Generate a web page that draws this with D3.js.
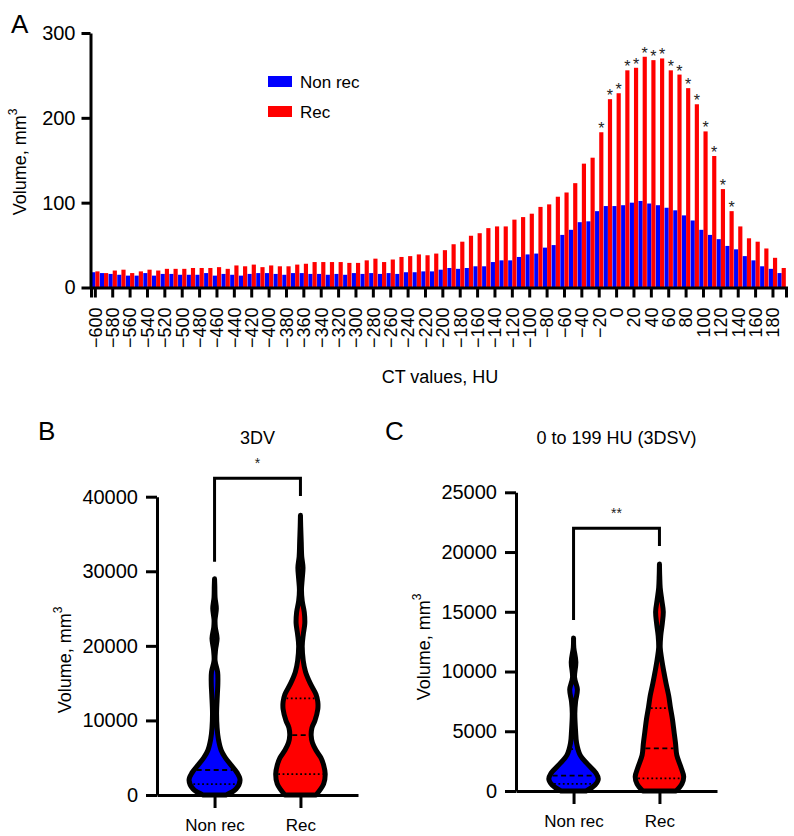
<!DOCTYPE html>
<html><head><meta charset="utf-8">
<script src="https://cdn.jsdelivr.net/npm/d3@7"></script>
<style>body{margin:0;background:#fff}svg{font-family:"Liberation Sans",Arial,Helvetica,sans-serif}</style>
</head><body><svg id="c" width="794" height="836"></svg>
<script>
// ---------- Panel A data ----------
const ctValues = [-600,-590,-580,-570,-560,-550,-540,-530,-520,-510,-500,-490,-480,-470,-460,-450,-440,-430,-420,-410,
  -400,-390,-380,-370,-360,-350,-340,-330,-320,-310,-300,-290,-280,-270,-260,-250,-240,-230,-220,-210,
  -200,-190,-180,-170,-160,-150,-140,-130,-120,-110,-100,-90,-80,-70,-60,-50,-40,-30,-20,-10,
  0,10,20,30,40,50,60,70,80,90,100,110,120,130,140,150,160,170,180,190];
const nonRecVol = [18,17,16,15,14,14,17,14,16,16, 15,15,15,17,14,16,15,14,16,17,
  17,16,15,17,17,16,16,15,16,15, 17,16,17,16,17,16,18,18,19,19,
  21,23,22,23,25,25,30,32,32,36, 39,40,47,50,62,68,77,78,90,96,
  96,97,100,102,99,97,94,91,85,79, 68,62,57,49,45,37,32,25,22,17];
const recVol = [19,17,20,21,17,19,21,20,22,22, 22,23,23,23,24,22,26,25,27,24,
  26,25,25,27,28,30,30,30,30,29, 29,32,34,30,33,36,37,39,38,40,
  44,51,54,61,64,70,72,72,80,83, 87,95,98,107,112,123,146,153,183,222,
  229,256,259,272,268,270,256,251,235,216, 184,155,116,90,72,58,54,46,35,23];
const starCats = [-20,-10,0,10,20,30,40,50,60,70,80,90,100,110,120,130];
const xTickValues = [-600,-580,-560,-540,-520,-500,-480,-460,-440,-420,-400,-380,-360,-340,-320,-300,-280,-260,-240,-220,
  -200,-180,-160,-140,-120,-100,-80,-60,-40,-20,0,20,40,60,80,100,120,140,160,180];
const yTicksA = [0,100,200,300];
const seriesNames = ["Non rec","Rec"];
const seriesColors = ["#0000ff","#ff0000"];

// ---------- Panels B and C data: violin outlines [value, relative density] ----------
const groups = ["Non rec","Rec"];
const violinB_nonRec = [[0,0.45],[800,0.84],[2000,1.0],[3000,0.88],[4000,0.65],[5000,0.42],[6000,0.26],[7500,0.15],
  [9000,0.1],[11000,0.08],[13500,0.11],[15000,0.13],[16500,0.12],[18000,0.02],[19500,0.04],[21000,0.1],
  [22500,0.03],[23500,0.02],[25000,0.07],[26500,0.02],[28000,0.01],[29000,0]];
const violinB_rec = [[0,0.61],[1500,0.91],[2800,0.97],[4000,0.91],[5000,0.8],[6000,0.61],[7000,0.47],[8000,0.42],
  [9000,0.45],[10000,0.57],[11500,0.68],[12500,0.68],[13500,0.61],[15000,0.38],[16500,0.2],[18000,0.11],
  [20000,0.07],[21500,0.11],[23000,0.17],[24500,0.15],[26000,0.07],[27500,0.04],[29000,0.07],[30500,0.1],
  [32000,0.05],[34000,0.03],[36000,0.01],[37500,0]];
const violinC_nonRec = [[0,0.49],[500,0.84],[1000,0.97],[1500,0.88],[2200,0.57],[3000,0.26],[4000,0.12],[5000,0.08],
  [6500,0.05],[7500,0.08],[8500,0.15],[9500,0.04],[10800,0.09],[12000,0.01],[12800,0]];
const violinC_rec = [[0,0.65],[600,0.88],[1200,0.95],[2000,0.84],[3000,0.68],[4000,0.63],[5000,0.57],[6000,0.51],
  [7000,0.43],[8000,0.36],[9000,0.26],[10000,0.17],[11000,0.09],[12000,0.03],[13000,0.05],[14000,0.11],
  [15000,0.15],[16000,0.09],[17000,0.03],[18000,0.01],[19000,0]];
// quartiles [q1, median, q3]
const quartB_nonRec = [1470, 3350, null];
const quartB_rec = [2800, 8040, 12960];
const quartC_nonRec = [590, 1280, 3500];
const quartC_rec = [1060, 3570, 6930];
const yTicksB = [0,10000,20000,30000,40000];
const yTicksC = [0,5000,10000,15000,20000,25000];

const svg = d3.select("#c");
const FONT = 20;

function styleAxis(g){
  g.selectAll(".domain").attr("stroke","#000").attr("stroke-width",3);
  g.selectAll(".tick line").attr("stroke","#000").attr("stroke-width",3);
  g.selectAll(".tick text").attr("fill","#000").attr("font-size",FONT).attr("font-family","Liberation Sans, Arial, sans-serif");
}
function yLabel(x, y){
  const t = svg.append("text").attr("transform",`translate(${x},${y}) rotate(-90)`)
    .attr("text-anchor","middle").attr("font-size",18).attr("fill","#000");
  t.append("tspan").text("Volume, mm");
  t.append("tspan").text("3").attr("font-size",12).attr("dy",-9);
}

// ================= Panel A =================
const x0 = d3.scaleBand().domain(ctValues).range([91,786]).paddingInner(0.04).paddingOuter(0.02);
const x1 = d3.scaleBand().domain(seriesNames).range([0,x0.bandwidth()]);
const yA = d3.scaleLinear().domain([0,300]).range([287.5,33]);

const barData = ctValues.map((c,i)=>({c, vals:[nonRecVol[i], recVol[i]]}));
const gBars = svg.append("g");
barData.forEach(d=>{
  d.vals.forEach((v,j)=>{
    gBars.append("rect")
      .attr("x", x0(d.c)+x1(seriesNames[j]))
      .attr("width", x1.bandwidth())
      .attr("y", yA(v))
      .attr("height", yA(0)-yA(v))
      .attr("fill", seriesColors[j]);
  });
});
// stars
starCats.forEach(c=>{
  const i = ctValues.indexOf(c);
  svg.append("text").attr("x", x0(c)+x1("Rec")+x1.bandwidth()/2).attr("y", yA(recVol[i])+2)
    .attr("text-anchor","middle").attr("font-size",16).attr("fill","#222").text("*");
});

const fmt = v => (v<0 ? "\u2212"+Math.abs(v) : String(v));
const axXA = svg.append("g").attr("transform",`translate(0,${yA(0)})`)
  .call(d3.axisBottom(x0).tickValues(xTickValues).tickFormat(fmt).tickSizeOuter(0).tickSize(10));
styleAxis(axXA);
axXA.selectAll(".tick text").attr("font-size",18)
  .attr("transform","rotate(-90)").attr("text-anchor","end")
  .attr("x",-20).attr("y",0).attr("dy","0.35em");
const axYA = svg.append("g").attr("transform","translate(90.5,0)")
  .call(d3.axisLeft(yA).tickValues(yTicksA).tickFormat(d3.format("d")).tickSize(9).tickSizeOuter(0));
styleAxis(axYA);
axYA.selectAll(".tick text").attr("x",-15);

svg.append("text").attr("x",11).attr("y",33).attr("font-size",26).text("A");
yLabel(26,162);
svg.append("text").attr("x",440).attr("y",383).attr("text-anchor","middle").attr("font-size",18).text("CT values, HU");

// legend
seriesNames.forEach((s,j)=>{
  svg.append("rect").attr("x",268).attr("y",76+j*30).attr("width",24).attr("height",11).attr("fill",seriesColors[j]);
  svg.append("text").attr("x",300).attr("y",88+j*30).attr("font-size",17).text(s);
});

// ================= Violin panels =================
function violinPanel(opt){
  const y = d3.scaleLinear().domain([0,opt.ymax]).range([opt.y0,opt.y1]);
  const x = d3.scalePoint().domain(groups).range([opt.ax, opt.ax+201]).padding(0.67);
  const w = d3.scaleLinear().domain([0,1]).range([0,25.5]);
  const axY = svg.append("g").attr("transform",`translate(${opt.ax},0)`)
    .call(d3.axisLeft(y).tickValues(opt.ticks).tickFormat(d3.format("d")).tickSize(11).tickSizeOuter(0));
  styleAxis(axY);
  axY.selectAll(".tick text").attr("x",-19);
  const axX = svg.append("g").attr("transform",`translate(0,${opt.y0})`)
    .call(d3.axisBottom(x).tickSize(13).tickSizeOuter(0));
  styleAxis(axX);
  axX.selectAll(".tick text").attr("font-size",17).attr("y",24);
  opt.violins.forEach((vd,j)=>{
    const cx = x(groups[j]);
    const area = d3.area().curve(d3.curveCatmullRom)
      .y(d=>y(d[0])).x0(d=>cx-w(d[1])).x1(d=>cx+w(d[1]));
    svg.append("path").datum(vd).attr("d",area)
      .attr("fill",seriesColors[j]).attr("stroke","#000").attr("stroke-width",5).attr("stroke-linejoin","round");
    const dens = v => {
      const i = d3.bisector(d=>d[0]).left(vd, v);
      const a = vd[Math.max(0,i-1)], b = vd[Math.min(vd.length-1,i)];
      if (b[0]===a[0]) return a[1];
      return a[1] + (b[1]-a[1])*(v-a[0])/(b[0]-a[0]);
    };
    opt.quarts[j].forEach((q,k)=>{
      if (q==null) return;
      const hw = w(dens(q))-2.5;
      svg.append("line").attr("x1",cx-hw).attr("x2",cx+hw).attr("y1",y(q)).attr("y2",y(q))
        .attr("stroke","#000").attr("stroke-width",1.8)
        .attr("stroke-dasharray", k===1 ? "5,3.5" : "1.8,2.6");
    });
  });
  // significance bracket
  const xa = x(groups[0]), xb = x(groups[1]);
  svg.append("path").attr("d",`M${xa},${opt.br[1]}V${opt.br[0]}H${xb}V${opt.br[2]}`)
    .attr("fill","none").attr("stroke","#000").attr("stroke-width",3);
  svg.append("text").attr("x",(xa+xb)/2).attr("y",opt.br[0]-10).attr("text-anchor","middle")
    .attr("font-size",14).attr("fill","#222").text(opt.sig);
  svg.append("text").attr("x",(xa+xb)/2).attr("y",444).attr("text-anchor","middle").attr("font-size",18).text(opt.title);
  svg.append("text").attr("x",opt.letterX).attr("y",440).attr("font-size",26).text(opt.letter);
  yLabel(opt.ylabX, opt.ylabY);
}

violinPanel({ax:157, y0:795, y1:496.7, ymax:40000, ticks:yTicksB,
  violins:[violinB_nonRec, violinB_rec], quarts:[quartB_nonRec, quartB_rec],
  br:[478.3, 561.7, 496], sig:"*", title:"3DV", letter:"B", letterX:38, ylabX:71, ylabY:660});
violinPanel({ax:516, y0:791, y1:492.3, ymax:25000, ticks:yTicksC,
  violins:[violinC_nonRec, violinC_rec], quarts:[quartC_nonRec, quartC_rec],
  br:[528.3, 620, 546], sig:"**", title:"0 to 199 HU (3DSV)", letter:"C", letterX:385, ylabX:430, ylabY:647});
</script>
</body></html>
